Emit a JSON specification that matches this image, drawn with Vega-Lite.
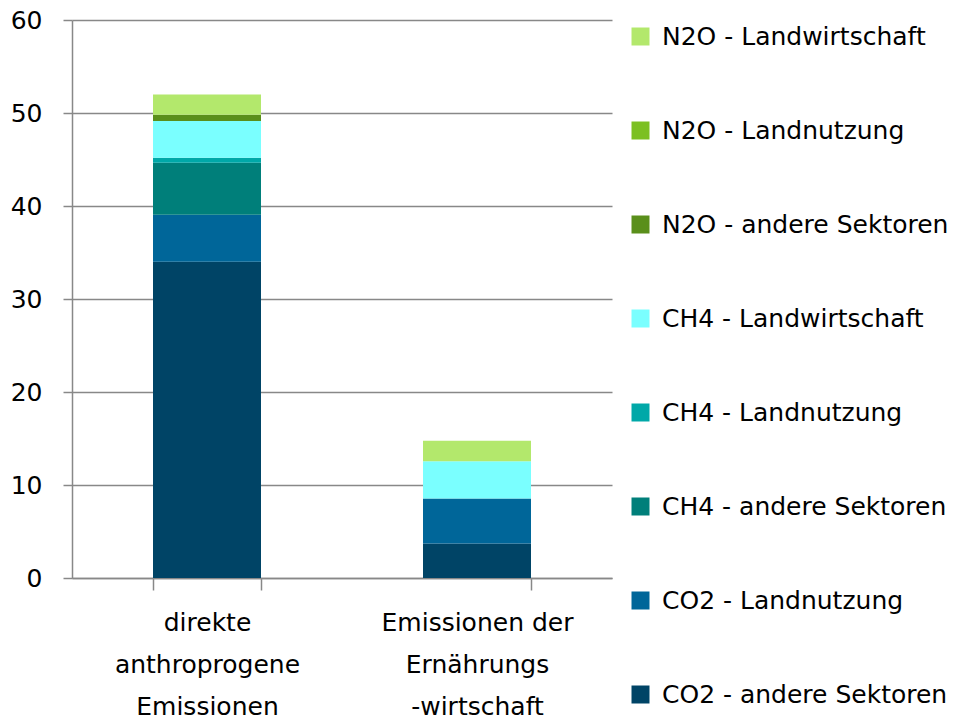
{
  "$schema": "https://vega.github.io/schema/vega-lite/v6.json",
  "width": 540,
  "height": 558,
  "autosize": {"type": "none"},
  "padding": {"left": 72, "top": 20, "right": 368, "bottom": 142},
  "background": "white",
  "config": {"font": "DejaVu Sans", "view": {"stroke": null}},
  "data": {"values": [
    {"kat": "direkte anthroprogene Emissionen", "reihe": "CO2 - andere Sektoren", "k": 1, "wert": 34.0},
    {"kat": "direkte anthroprogene Emissionen", "reihe": "CO2 - Landnutzung", "k": 2, "wert": 5.05},
    {"kat": "direkte anthroprogene Emissionen", "reihe": "CH4 - andere Sektoren", "k": 3, "wert": 5.6},
    {"kat": "direkte anthroprogene Emissionen", "reihe": "CH4 - Landnutzung", "k": 4, "wert": 0.55},
    {"kat": "direkte anthroprogene Emissionen", "reihe": "CH4 - Landwirtschaft", "k": 5, "wert": 3.95},
    {"kat": "direkte anthroprogene Emissionen", "reihe": "N2O - andere Sektoren", "k": 6, "wert": 0.65},
    {"kat": "direkte anthroprogene Emissionen", "reihe": "N2O - Landnutzung", "k": 7, "wert": 0.0},
    {"kat": "direkte anthroprogene Emissionen", "reihe": "N2O - Landwirtschaft", "k": 8, "wert": 2.2},
    {"kat": "Emissionen der Ernährungswirtschaft", "reihe": "CO2 - andere Sektoren", "k": 1, "wert": 3.7},
    {"kat": "Emissionen der Ernährungswirtschaft", "reihe": "CO2 - Landnutzung", "k": 2, "wert": 4.85},
    {"kat": "Emissionen der Ernährungswirtschaft", "reihe": "CH4 - andere Sektoren", "k": 3, "wert": 0.0},
    {"kat": "Emissionen der Ernährungswirtschaft", "reihe": "CH4 - Landnutzung", "k": 4, "wert": 0.0},
    {"kat": "Emissionen der Ernährungswirtschaft", "reihe": "CH4 - Landwirtschaft", "k": 5, "wert": 4.0},
    {"kat": "Emissionen der Ernährungswirtschaft", "reihe": "N2O - andere Sektoren", "k": 6, "wert": 0.0},
    {"kat": "Emissionen der Ernährungswirtschaft", "reihe": "N2O - Landnutzung", "k": 7, "wert": 0.0},
    {"kat": "Emissionen der Ernährungswirtschaft", "reihe": "N2O - Landwirtschaft", "k": 8, "wert": 2.2}
  ]},
  "mark": {"type": "bar"},
  "encoding": {
    "x": {
      "field": "kat", "type": "nominal", "sort": null,
      "scale": {"paddingInner": 0.6, "paddingOuter": 0.3},
      "axis": {
        "title": null, "labelAngle": 0, "tickBand": "extent", "labelLimit": 400,
        "labelExpr": "datum.value == 'direkte anthroprogene Emissionen' ? ['direkte','anthroprogene','Emissionen'] : datum.value == 'Emissionen der Ernährungswirtschaft' ? ['Emissionen der','Ernährungs','-wirtschaft'] : ''",
        "labelFontSize": 25, "labelColor": "#000000", "labelLineHeight": 42,
        "labelPadding": 20, "tickSize": 12, "tickColor": "#888888", "tickWidth": 1.5,
        "domainColor": "#888888", "domainWidth": 1.5, "labelBaseline": "top"
      }
    },
    "y": {
      "field": "wert", "type": "quantitative", "stack": "zero",
      "scale": {"domain": [0, 60]},
      "axis": {
        "title": null, "values": [0, 10, 20, 30, 40, 50, 60],
        "labelFontSize": 25, "labelColor": "#000000", "labelPadding": 21,
        "tickSize": 9, "tickColor": "#888888", "tickWidth": 1.5,
        "domainColor": "#888888", "domainWidth": 1.5,
        "grid": true, "gridColor": "#888888", "gridWidth": 1.5
      }
    },
    "color": {
      "field": "reihe", "type": "nominal",
      "scale": {
        "domain": ["N2O - Landwirtschaft", "N2O - Landnutzung", "N2O - andere Sektoren", "CH4 - Landwirtschaft", "CH4 - Landnutzung", "CH4 - andere Sektoren", "CO2 - Landnutzung", "CO2 - andere Sektoren"],
        "range": ["#b3e86c", "#7cc022", "#5a8f1b", "#7affff", "#00a8a8", "#007f7a", "#006699", "#004466"]
      },
      "legend": {
        "title": null, "orient": "none", "legendX": 556, "legendY": 4,
        "symbolType": "square", "symbolSize": 324, "symbolStrokeWidth": 0,
        "labelFontSize": 25, "labelColor": "#000000", "labelOffset": 9,
        "rowPadding": 68, "labelLimit": 400
      }
    },
    "order": {"field": "k", "type": "quantitative", "sort": "ascending"}
  }
}
